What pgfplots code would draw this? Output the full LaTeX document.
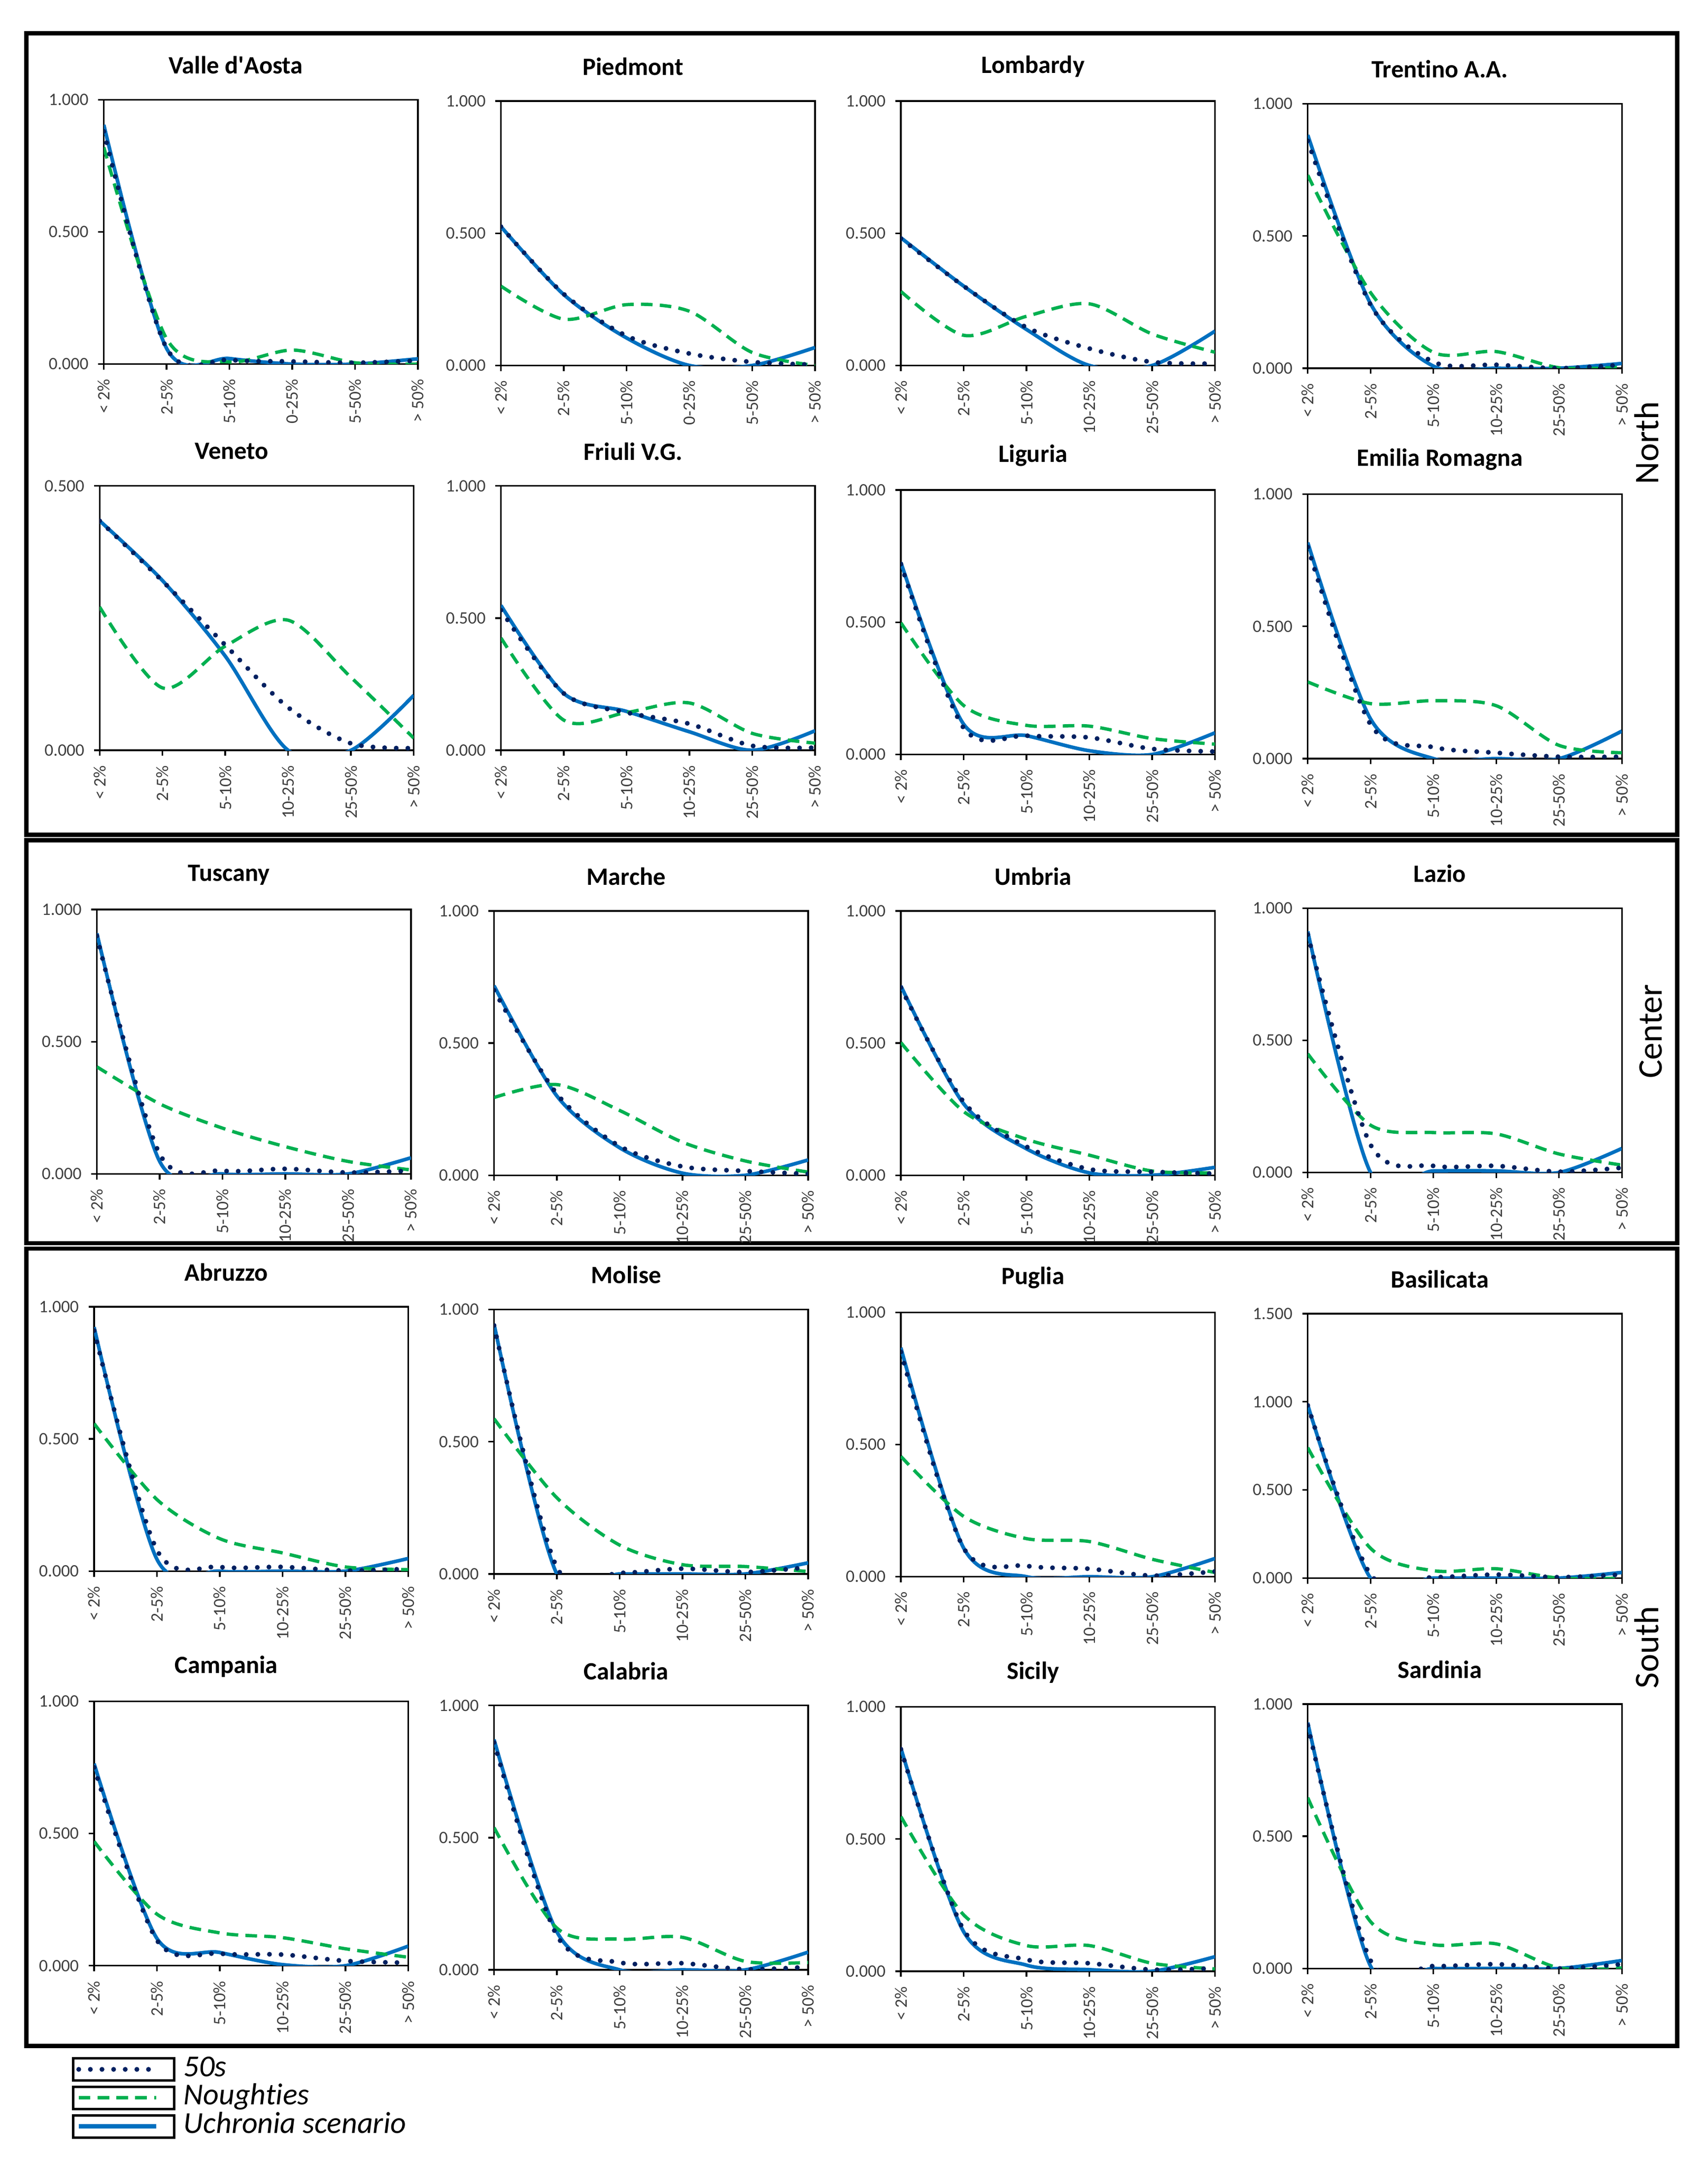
\documentclass[border=0pt]{standalone}
\usepackage{fontspec}
\setmainfont{Carlito}[Ligatures=NoCommon]
\usepackage{pgfplots}
\usepackage{pgfplotstable}
\pgfplotsset{compat=1.18}
\definecolor{cfif}{HTML}{002060}
\definecolor{cnou}{HTML}{00B050}
\definecolor{cuch}{HTML}{0070C0}
\definecolor{ctick}{HTML}{404040}

\tikzset{
 uch/.style={color=cuch, line width=1.3pt, solid, smooth, tension=0.5, mark=none},
 nou/.style={color=cnou, line width=1.2pt, dash pattern=on 4.2pt off 2.6pt, smooth, tension=0.5, mark=none},
 fif/.style={color=cfif, line width=1.75pt, line cap=round, dash pattern=on 0pt off 4.2pt, smooth, tension=0.5, mark=none},
}

% columns: x, f = 50s, n = Noughties, u = Uchronia scenario
\pgfplotstableread{
x f n u
0 0.880 0.820 0.905
1 0.060 0.096 0.059
2 0.016 0.008 0.021
3 0.010 0.053 0.000
4 0.005 0.005 0.000
5 0.013 0.000 0.020
}\tVdA
\pgfplotstableread{
x f n u
0 0.525 0.300 0.525
1 0.270 0.175 0.268
2 0.112 0.230 0.104
3 0.045 0.205 0.000
4 0.013 0.049 0.000
5 0.003 0.000 0.068
}\tPie
\pgfplotstableread{
x f n u
0 0.480 0.280 0.483
1 0.300 0.114 0.300
2 0.144 0.186 0.136
3 0.064 0.233 0.000
4 0.013 0.119 0.000
5 0.007 0.050 0.130
}\tLom
\pgfplotstableread{
x f n u
0 0.860 0.730 0.882
1 0.240 0.286 0.244
2 0.024 0.060 0.008
3 0.013 0.063 0.000
4 0.000 0.002 0.000
5 0.013 0.004 0.018
}\tTre
\pgfplotstableread{
x f n u
0 0.434 0.271 0.434
1 0.320 0.118 0.321
2 0.199 0.197 0.178
3 0.081 0.246 0.000
4 0.013 0.138 0.000
5 0.004 0.023 0.104
}\tVen
\pgfplotstableread{
x f n u
0 0.530 0.425 0.548
1 0.215 0.114 0.215
2 0.143 0.143 0.147
3 0.100 0.179 0.070
4 0.017 0.064 0.000
5 0.010 0.027 0.074
}\tFri
\pgfplotstableread{
x f n u
0 0.720 0.498 0.726
1 0.100 0.185 0.114
2 0.071 0.110 0.071
3 0.064 0.107 0.014
4 0.021 0.060 0.000
5 0.011 0.039 0.082
}\tLig
\pgfplotstableread{
x f n u
0 0.800 0.290 0.817
1 0.129 0.208 0.150
2 0.043 0.219 0.000
3 0.022 0.200 0.000
4 0.007 0.050 0.000
5 0.007 0.022 0.104
}\tEmi
\pgfplotstableread{
x f n u
0 0.900 0.405 0.910
1 0.075 0.265 0.047
2 0.012 0.173 0.000
3 0.019 0.103 0.000
4 0.005 0.047 0.000
5 0.012 0.015 0.061
}\tTus
\pgfplotstableread{
x f n u
0 0.700 0.294 0.717
1 0.308 0.343 0.300
2 0.110 0.245 0.104
3 0.033 0.125 0.008
4 0.016 0.054 0.000
5 0.005 0.012 0.058
}\tMar
\pgfplotstableread{
x f n u
0 0.710 0.502 0.716
1 0.277 0.241 0.270
2 0.108 0.136 0.100
3 0.023 0.076 0.009
4 0.013 0.016 0.000
5 0.006 0.009 0.030
}\tUmb
\pgfplotstableread{
x f n u
0 0.900 0.449 0.912
1 0.105 0.179 0.000
2 0.025 0.151 0.006
3 0.025 0.146 0.006
4 0.003 0.070 0.000
5 0.018 0.028 0.091
}\tLaz
\pgfplotstableread{
x f n u
0 0.910 0.558 0.923
1 0.080 0.271 0.045
2 0.016 0.123 0.000
3 0.016 0.069 0.000
4 0.002 0.016 0.000
5 0.009 0.006 0.048
}\tAbr
\pgfplotstableread{
x f n u
0 0.940 0.587 0.945
1 0.025 0.288 0.000
2 0.004 0.109 0.000
3 0.020 0.035 0.000
4 0.007 0.028 0.000
5 0.025 0.009 0.042
}\tMol
\pgfplotstableread{
x f n u
0 0.850 0.455 0.866
1 0.108 0.228 0.108
2 0.041 0.144 0.000
3 0.030 0.133 0.000
4 0.004 0.066 0.000
5 0.020 0.016 0.069
}\tPug
\pgfplotstableread{
x f n u
0 0.980 0.740 0.982
1 0.020 0.169 0.000
2 0.005 0.042 0.000
3 0.020 0.053 0.000
4 0.005 0.000 0.000
5 0.020 0.000 0.032
}\tBas
\pgfplotstableread{
x f n u
0 0.750 0.470 0.764
1 0.096 0.195 0.103
2 0.046 0.124 0.050
3 0.042 0.106 0.004
4 0.018 0.064 0.000
5 0.011 0.032 0.074
}\tCam
\pgfplotstableread{
x f n u
0 0.860 0.538 0.871
1 0.130 0.158 0.144
2 0.028 0.116 0.000
3 0.025 0.123 0.000
4 0.002 0.032 0.000
5 0.011 0.028 0.067
}\tCal
\pgfplotstableread{
x f n u
0 0.840 0.585 0.844
1 0.156 0.213 0.149
2 0.044 0.097 0.023
3 0.030 0.097 0.006
4 0.006 0.030 0.000
5 0.011 0.009 0.055
}\tSic
\pgfplotstableread{
x f n u
0 0.920 0.646 0.930
1 0.030 0.177 0.009
2 0.009 0.090 0.000
3 0.016 0.093 0.000
4 0.000 0.002 0.000
5 0.016 0.002 0.030
}\tSar

\pgfplotsset{
 panel/.style={
  scale only axis, width=113.5pt, height=95.5pt, anchor=north west,
  xmin=0, xmax=5, ymin=0, xtick={0,1,2,3,4,5}, ytick distance=0.5,
  tick pos=left, tick align=outside, major tick length=2pt,
  axis line style={line width=0.6pt, black},
  every tick/.append style={line width=0.6pt, black},
  tick label style={color=ctick},
  yticklabel style={font=\fontsize{6.3}{7}\selectfont,
    /pgf/number format/fixed, /pgf/number format/fixed zerofill,
    /pgf/number format/precision=3},
  /pgf/number format/assume math mode=true,
  xticklabel style={font=\fontsize{6.3}{7}\selectfont, rotate=90, anchor=east},
  every axis title/.style={at={(0.5,1)}, anchor=center, yshift=12.5pt, xshift=-9pt,
    font=\fontsize{9}{10}\selectfont\bfseries, color=black},
  clip=true,
 },
}

\newcommand{\panel}[6]{%
 \begin{axis}[panel, at={(#1pt,-#2pt)}, ymax=#3, title={#4}, xticklabels={#6}]
  \addplot[uch] table[x=x,y=u]{#5};
  \addplot[nou] table[x=x,y=n]{#5};
  \addplot[fif] table[x=x,y=f]{#5};
 \end{axis}}

\begin{document}
\begin{tikzpicture}
\path[use as bounding box] (0pt,0pt) rectangle (617pt,-782pt);

% group frames
\draw[line width=1.5pt] (9.5pt,-12pt) rectangle (606pt,-301.5pt);
\draw[line width=1.5pt] (9.5pt,-303.5pt) rectangle (606pt,-449pt);
\draw[line width=1.5pt] (9.5pt,-451pt) rectangle (606pt,-739pt);
\node[rotate=90, font=\fontsize{12.5}{13}\selectfont] at (595pt,-160pt) {North};
\node[rotate=90, font=\fontsize{12.5}{13}\selectfont] at (596.5pt,-372.5pt) {Center};
\node[rotate=90, font=\fontsize{12.5}{13}\selectfont] at (595pt,-595pt) {South};

% North, row 1
\panel{37.5}{36}{1}{Valle d\textquotesingle Aosta}{\tVdA}{{< 2\%},{2-5\%},{5-10\%},{0-25\%},{5-50\%},{> 50\%}}
\panel{181}{36.5}{1}{Piedmont}{\tPie}{{< 2\%},{2-5\%},{5-10\%},{0-25\%},{5-50\%},{> 50\%}}
\panel{325.5}{36.5}{1}{Lombardy}{\tLom}{{< 2\%},{2-5\%},{5-10\%},{10-25\%},{25-50\%},{> 50\%}}
\panel{472.5}{37.5}{1}{Trentino A.A.}{\tTre}{{< 2\%},{2-5\%},{5-10\%},{10-25\%},{25-50\%},{> 50\%}}
% North, row 2
\panel{36}{175.5}{0.5}{Veneto}{\tVen}{{< 2\%},{2-5\%},{5-10\%},{10-25\%},{25-50\%},{> 50\%}}
\panel{181}{175.5}{1}{Friuli V.G.}{\tFri}{{< 2\%},{2-5\%},{5-10\%},{10-25\%},{25-50\%},{> 50\%}}
\panel{325.5}{177}{1}{Liguria}{\tLig}{{< 2\%},{2-5\%},{5-10\%},{10-25\%},{25-50\%},{> 50\%}}
\panel{472.5}{178.5}{1}{Emilia Romagna}{\tEmi}{{< 2\%},{2-5\%},{5-10\%},{10-25\%},{25-50\%},{> 50\%}}
% Center
\panel{35}{328.5}{1}{Tuscany}{\tTus}{{< 2\%},{2-5\%},{5-10\%},{10-25\%},{25-50\%},{> 50\%}}
\panel{178.5}{329}{1}{Marche}{\tMar}{{< 2\%},{2-5\%},{5-10\%},{10-25\%},{25-50\%},{> 50\%}}
\panel{325.5}{329}{1}{Umbria}{\tUmb}{{< 2\%},{2-5\%},{5-10\%},{10-25\%},{25-50\%},{> 50\%}}
\panel{472.5}{328}{1}{Lazio}{\tLaz}{{< 2\%},{2-5\%},{5-10\%},{10-25\%},{25-50\%},{> 50\%}}
% South, row 1
\panel{34}{472}{1}{Abruzzo}{\tAbr}{{< 2\%},{2-5\%},{5-10\%},{10-25\%},{25-50\%},{> 50\%}}
\panel{178.5}{473}{1}{Molise}{\tMol}{{< 2\%},{2-5\%},{5-10\%},{10-25\%},{25-50\%},{> 50\%}}
\panel{325.5}{474}{1}{Puglia}{\tPug}{{< 2\%},{2-5\%},{5-10\%},{10-25\%},{25-50\%},{> 50\%}}
\panel{472.5}{474.5}{1.5}{Basilicata}{\tBas}{{< 2\%},{2-5\%},{5-10\%},{10-25\%},{25-50\%},{> 50\%}}
% South, row 2
\panel{34}{614.5}{1}{Campania}{\tCam}{{< 2\%},{2-5\%},{5-10\%},{10-25\%},{25-50\%},{> 50\%}}
\panel{178.5}{616}{1}{Calabria}{\tCal}{{< 2\%},{2-5\%},{5-10\%},{10-25\%},{25-50\%},{> 50\%}}
\panel{325.5}{616.5}{1}{Sicily}{\tSic}{{< 2\%},{2-5\%},{5-10\%},{10-25\%},{25-50\%},{> 50\%}}
\panel{472.5}{615.5}{1}{Sardinia}{\tSar}{{< 2\%},{2-5\%},{5-10\%},{10-25\%},{25-50\%},{> 50\%}}

% legend
\begin{axis}[hide axis, scale only axis, width=10pt, height=10pt,
  at={(26pt,-743pt)}, anchor=north west, xmin=0, xmax=1, ymin=0, ymax=1,
  legend style={at={(0,1)}, anchor=north west, draw=none, fill=none,
    inner sep=0pt, outer sep=0pt, row sep=1.4pt, column sep=3pt,
    font=\fontsize{11}{11}\selectfont\itshape,
    nodes={inner sep=0pt, text height=6.5pt, text depth=1.5pt}},
  legend cell align=left,
  legend image code/.code={
    \draw[black, line width=0.9pt, solid] (0pt,-4pt) rectangle (36.5pt,4pt);
    \draw[#1] (2pt,0pt) -- (30pt,0pt);}]
\addlegendimage{fif}
\addlegendentry{50s}
\addlegendimage{nou}
\addlegendentry{Noughties}
\addlegendimage{uch, line width=1.6pt}
\addlegendentry{Uchronia scenario}
\end{axis}
\end{tikzpicture}
\end{document}
